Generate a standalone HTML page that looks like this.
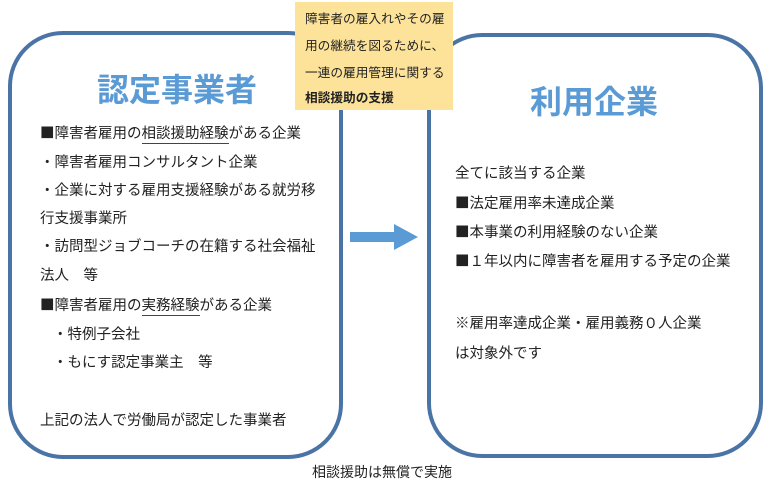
<!DOCTYPE html>
<html><head><meta charset="utf-8"><style>
body{margin:0;width:770px;height:487px;background:#fff;position:relative;font-family:"Noto Sans CJK JP","Liberation Sans",sans-serif;color:#222;overflow:hidden}
.box{position:absolute;border:4px solid #4a74a6;border-radius:55px;background:#fff;box-sizing:border-box}
.t{position:absolute;font-size:14.5px;white-space:nowrap;line-height:18px}
.h{position:absolute;font-size:32px;font-weight:bold;color:#5b9bd5;white-space:nowrap;line-height:38px}
u{text-decoration:none;border-bottom:1px solid #444}
.y{position:absolute;left:295px;top:2px;width:158px;height:108px;background:#fde39a}
.yt{position:absolute;font-size:12.7px;white-space:nowrap;line-height:16px}
</style></head><body>
<div class="box" style="left:8px;top:31px;width:335px;height:428px"></div>
<div class="box" style="left:427px;top:33px;width:336px;height:425px"></div>
<div class="y"></div>
<div class="yt" style="left:305px;top:10px">障害者の雇入れやその雇</div>
<div class="yt" style="left:305px;top:37px">用の継続を図るために、</div>
<div class="yt" style="left:305px;top:64px">一連の雇用管理に関する</div>
<div class="yt" style="left:305px;top:89px;font-weight:bold">相談援助の支援</div>
<div class="h" style="left:97px;top:69px">認定事業者</div>
<div class="h" style="left:530px;top:81px">利用企業</div>
<div class="t" style="left:40px;top:124px">■障害者雇用の<u>相談援助経験</u>がある企業</div>
<div class="t" style="left:40px;top:153px">・障害者雇用コンサルタント企業</div>
<div class="t" style="left:40px;top:181px">・企業に対する雇用支援経験がある就労移</div>
<div class="t" style="left:40px;top:209px">行支援事業所</div>
<div class="t" style="left:40px;top:237px">・訪問型ジョブコーチの在籍する社会福祉</div>
<div class="t" style="left:40px;top:266px">法人　等</div>
<div class="t" style="left:40px;top:296px">■障害者雇用の<u>実務経験</u>がある企業</div>
<div class="t" style="left:53px;top:325px">・特例子会社</div>
<div class="t" style="left:53px;top:353px">・もにす認定事業主　等</div>
<div class="t" style="left:40px;top:411px">上記の法人で労働局が認定した事業者</div>
<div class="t" style="left:455px;top:164px">全てに該当する企業</div>
<div class="t" style="left:455px;top:194px">■法定雇用率未達成企業</div>
<div class="t" style="left:455px;top:223px">■本事業の利用経験のない企業</div>
<div class="t" style="left:455px;top:252px">■１年以内に障害者を雇用する予定の企業</div>
<div class="t" style="left:455px;top:314px">※雇用率達成企業・雇用義務０人企業</div>
<div class="t" style="left:455px;top:344px">は対象外です</div>
<svg style="position:absolute;left:348px;top:222px" width="72" height="30"><polygon points="2,10 46,10 46,2 70,15 46,28 46,20 2,20" fill="#5b9bd5"/></svg>
<div class="t" style="left:312px;top:463px;font-size:14px">相談援助は無償で実施</div>
</body></html>
